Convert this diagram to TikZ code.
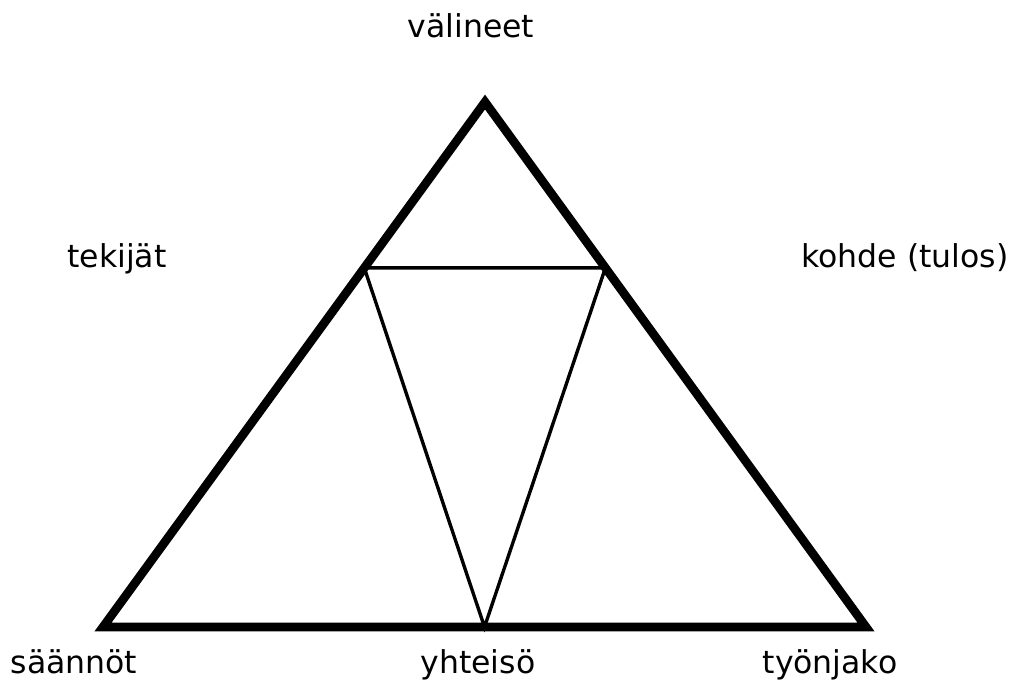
\documentclass[tikz,border=0pt]{standalone}
\usepackage{fontspec}
\setmainfont{DejaVu Sans}
\usetikzlibrary{calc}

\begin{document}
\begin{tikzpicture}[
    x=0.025cm, y=-0.025cm,
    word/.style={anchor=base, inner sep=0pt, font=\fontsize{22.4}{27}\selectfont},
    thickline/.style={line width=6.2pt, line join=miter},
    thinline/.style={line width=2.4pt}
]
    \useasboundingbox (0,0) rectangle (1016,679);

    % Corners
    \coordinate (apex) at (485,102);
    \coordinate (baseL) at (103,627);
    \coordinate (baseR) at (866,627);
    \coordinate (baseM) at ($(baseL)!0.5!(baseR)$);
    \coordinate (sideL) at ($(apex)!0.316!(baseL)$);
    \coordinate (sideR) at ($(apex)!0.316!(baseR)$);

    % Triangles
    \draw[thinline] (sideL) -- (sideR) -- (baseM) -- cycle;
    \draw[thickline] (apex) -- (baseL) -- (baseR) -- cycle;

    % Labels
    \node[word] (valineet) at (471,37) {välineet};
    \node[word] (tekijat) at (117,267) {tekijät};
    \node[word] (kohde) at (905,267) {kohde (tulos)};
    \node[word] (saannot) at (74,673) {säännöt};
    \node[word] (yhteiso) at (478,673) {yhteisö};
    \node[word] (tyonjako) at (830,673) {työnjako};
\end{tikzpicture}
\end{document}
